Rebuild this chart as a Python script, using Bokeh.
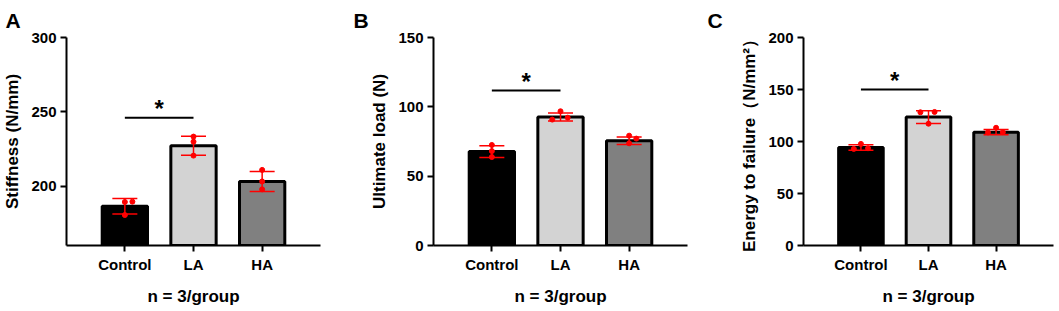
from bokeh.plotting import figure
from bokeh.models import (FactorRange, ColumnDataSource, Whisker, TeeHead, Label,
                          FixedTicker)
from bokeh.layouts import row
from bokeh.embed import file_html
from bokeh.resources import INLINE

# ---------------- data ----------------
groups = ["Control", "LA", "HA"]
bar_colors = ["#000000", "#D3D3D3", "#808080"]

stiffness_mean = [186.4, 227.2, 203.1]
stiffness_sd = [5.2, 6.4, 6.7]
stiffness_points = [[189.3, 189.5, 180.5], [233.3, 229.9, 220.5], [210.9, 203.1, 197.8]]
stiffness_jitter = [[0.0, 0.11, 0.0], [0.0, 0.0, 0.0], [0.0, 0.0, 0.0]]
stiffness_ticks = [200, 250, 300]
stiffness_sig = 246

load_mean = [67.7, 92.7, 75.6]
load_sd = [4.3, 2.9, 2.7]
load_points = [[72.5, 68.1, 63.8], [96.8, 90.8, 92.2], [79.2, 73.7, 77.1]]
load_jitter = [[0.0, 0.0, 0.0], [0.0, -0.12, 0.105], [0.0, 0.0, 0.105]]
load_ticks = [0, 50, 100, 150]
load_sig = 111.8

energy_mean = [94.2, 123.5, 109.0]
energy_sd = [2.6, 6.1, 2.6]
energy_points = [[97.7, 92.9, 93.5], [128.1, 128.4, 117.1], [113.2, 108.7, 109.0]]
energy_jitter = [[0.0, -0.105, 0.105], [-0.12, 0.09, 0.0], [0.0, -0.12, 0.1]]
energy_ticks = [0, 50, 100, 150, 200]
energy_sig = 150

FONT = "Liberation Sans"
RED = "#FF0000"
H = 310
TOP = 37
BOTTOM = 65
PAD = 0.35


def panel(letter, ylabel, means, sds, points, jitter, y_start, y_end, ticks, sig_y,
          width, left, right, letter_x):
    p = figure(x_range=FactorRange(factors=groups, range_padding=PAD,
                                   range_padding_units="absolute"),
               y_range=(y_start, y_end), width=width, height=H,
               output_backend="svg", toolbar_location=None,
               min_border_left=left, min_border_right=right,
               min_border_top=TOP, min_border_bottom=BOTTOM)
    p.outline_line_color = None
    p.xgrid.grid_line_color = None
    p.ygrid.grid_line_color = None
    p.background_fill_color = "white"
    p.border_fill_color = "white"

    # panel letter as title
    p.title.text = letter
    p.title.align = "left"
    p.title.offset = letter_x - left
    p.title.standoff = 12
    p.title.text_font = FONT
    p.title.text_font_size = "21px"
    p.title.text_font_style = "bold"
    p.title.text_color = "black"

    bars = ColumnDataSource(dict(x=groups, top=means, color=bar_colors,
                                 upper=[m + s for m, s in zip(means, sds)],
                                 lower=[m - s for m, s in zip(means, sds)]))
    p.vbar(x="x", top="top", bottom=y_start, width=0.66, fill_color="color",
           line_color="black", line_width=3, source=bars)

    w = Whisker(base="x", upper="upper", lower="lower", source=bars,
                dimension="height", line_color=RED, line_width=1.5, level="annotation",
                upper_head=TeeHead(size=25, line_color=RED, line_width=1.5),
                lower_head=TeeHead(size=25, line_color=RED, line_width=1.5))
    p.add_layout(w)

    px, py = [], []
    for i, (vals, offs) in enumerate(zip(points, jitter)):
        for v, o in zip(vals, offs):
            px.append(i + 0.5 + o)
            py.append(v)
    p.scatter(x=px, y=py, size=5, fill_color=RED, line_color=RED)

    # significance bar
    p.segment(x0=[groups[0]], y0=[sig_y], x1=[groups[1]], y1=[sig_y],
              line_color="black", line_width=2)
    p.add_layout(Label(x=1.0, y=sig_y, y_offset=9, text="*", text_align="center",
                       text_baseline="alphabetic", text_font=FONT,
                       text_font_size="24px", text_font_style="bold",
                       text_color="black"))

    for ax in (p.xaxis, p.yaxis):
        ax.axis_line_width = 2
        ax.axis_line_color = "black"
        ax.major_tick_line_width = 2
        ax.major_tick_line_color = "black"
        ax.major_tick_out = 6
        ax.major_tick_in = 0
        ax.minor_tick_line_color = None
        ax.major_label_text_font = FONT
        ax.major_label_text_font_style = "bold"
        ax.major_label_text_font_size = "15px"
        ax.major_label_text_color = "black"
        ax.axis_label_text_font = FONT
        ax.axis_label_text_font_style = "bold"
        ax.axis_label_text_font_size = "17px"
        ax.axis_label_text_color = "black"

    p.yaxis.ticker = FixedTicker(ticks=ticks)
    p.yaxis.axis_label = ylabel
    p.yaxis.major_label_standoff = 4
    p.yaxis.axis_label_standoff = 6
    p.xaxis.axis_label = "n = 3/group"
    p.xaxis.major_label_standoff = 4
    p.xaxis.axis_label_standoff = 11
    return p


pA = panel("A", "Stiffness (N/mm)", stiffness_mean, stiffness_sd, stiffness_points,
           stiffness_jitter, 160, 300, stiffness_ticks, stiffness_sig,
           350, 64, 30, 3)
pB = panel("B", "Ultimate load (N)", load_mean, load_sd, load_points,
           load_jitter, 0, 150, load_ticks, load_sig,
           350, 83, 13, 3)
pC = panel("C", "Energy to failure（N/mm²）", energy_mean, energy_sd, energy_points,
           energy_jitter, 0, 200, energy_ticks, energy_sig,
           359, 103, 6, 7)

layout = row(pA, pB, pC)
open("out.html", "w").write(file_html(layout, INLINE))
